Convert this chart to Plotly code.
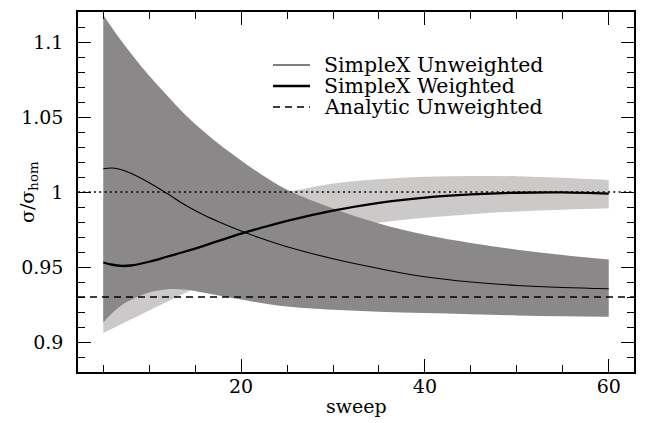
import plotly.graph_objects as go

# ---------------- data ----------------
sweep = [5, 6, 7, 8, 10, 12, 14, 16, 18, 20, 22, 25, 30, 35, 40, 45, 50, 55, 60]

unweighted = [1.0155, 1.016, 1.0148, 1.0125, 1.0062, 0.9988, 0.9910, 0.9845, 0.9790,
              0.9740, 0.9695, 0.9635, 0.9555, 0.9490, 0.9435, 0.9400, 0.9377, 0.9363, 0.9355]
unweighted_hi = [1.118, 1.109, 1.1005, 1.0925, 1.0775, 1.064, 1.051, 1.040, 1.030,
                 1.021, 1.0125, 1.0015, 0.989, 0.979, 0.9715, 0.966, 0.9615, 0.958, 0.955]
unweighted_lo = [0.913, 0.9195, 0.9245, 0.928, 0.933, 0.9352, 0.9348, 0.9328, 0.9305,
                 0.9283, 0.9262, 0.9237, 0.9215, 0.9202, 0.9193, 0.9185, 0.9177, 0.9172, 0.9169]

weighted = [0.953, 0.9515, 0.9507, 0.951, 0.9535, 0.957, 0.9605, 0.9643, 0.9683,
            0.9722, 0.9758, 0.9808, 0.9876, 0.9928, 0.9963, 0.9984, 0.9995, 0.9997, 0.9989]
weighted_hi = [0.995, 0.995, 0.995, 0.995, 0.995, 0.995, 0.995, 0.995, 0.996,
               0.997, 0.998, 1.000, 1.0056, 1.0085, 1.0102, 1.0107, 1.0105, 1.0095, 1.008]
weighted_lo = [0.906, 0.909, 0.912, 0.915, 0.921, 0.927, 0.933, 0.939, 0.945,
               0.951, 0.956, 0.963, 0.9735, 0.9795, 0.9828, 0.9852, 0.9870, 0.9882, 0.9891]

homogeneous_level = 1.0
analytic_unweighted = 0.93

x_range = [2.25, 62.75]
y_range = [0.88, 1.12]

legend_labels = ["SimpleX Unweighted", "SimpleX Weighted", "Analytic Unweighted"]

# ---------------- styles ----------------
DARK = "#8a8888"
LIGHT = "#ccc9c9"
FONT = "DejaVu Serif"

fig = go.Figure()

# light band (weighted)
fig.add_trace(go.Scatter(x=sweep, y=weighted_lo, mode="lines", line=dict(width=0, shape="spline"),
                         hoverinfo="skip", showlegend=False))
fig.add_trace(go.Scatter(x=sweep, y=weighted_hi, mode="lines", line=dict(width=0, shape="spline"),
                         fill="tonexty", fillcolor=LIGHT, hoverinfo="skip", showlegend=False))
# dark band (unweighted)
fig.add_trace(go.Scatter(x=sweep, y=unweighted_lo, mode="lines", line=dict(width=0, shape="spline"),
                         hoverinfo="skip", showlegend=False))
fig.add_trace(go.Scatter(x=sweep, y=unweighted_hi, mode="lines", line=dict(width=0, shape="spline"),
                         fill="tonexty", fillcolor=DARK, hoverinfo="skip", showlegend=False))

# reference levels
fig.add_trace(go.Scatter(x=x_range, y=[homogeneous_level] * 2, mode="lines",
                         line=dict(color="black", width=1.6, dash="2px,3.3px"), showlegend=False))
fig.add_trace(go.Scatter(x=x_range, y=[analytic_unweighted] * 2, mode="lines",
                         line=dict(color="black", width=1.5, dash="7px,5px"),
                         name=legend_labels[2], showlegend=False))

# curves
fig.add_trace(go.Scatter(x=sweep, y=unweighted, mode="lines",
                         line=dict(color="black", width=1.1, shape="spline"),
                         name=legend_labels[0], showlegend=False))
fig.add_trace(go.Scatter(x=sweep, y=weighted, mode="lines",
                         line=dict(color="black", width=2.3, shape="spline"),
                         name=legend_labels[1], showlegend=False))

# ---------------- layout geometry ----------------
# the page body adds an 8px offset; frame wanted at screen x 78..634, y 12..372
OFF = 8
W, H = 649 - OFF, 423 - OFF
L, T = 78 - OFF, 12 - OFF
R = W - (634 - OFF)
B = H - (372 - OFF)
pw, ph = W - L - R, H - T - B


def px(xs):
    return (xs - OFF - L) / pw


def py(ys):
    return 1 - (ys - OFF - T) / ph


rows_y = [65, 86, 107]
styles = [dict(width=1.1), dict(width=2.3), dict(width=1.5, dash="7px,5px")]
annotations = []
shapes = []
for lab, yy, st in zip(legend_labels, rows_y, styles):
    shapes.append(dict(type="line", xref="paper", yref="paper", x0=px(273), x1=px(310),
                       y0=py(yy), y1=py(yy), line=dict(color="black", **st)))
    annotations.append(dict(text=lab, xref="paper", yref="paper", x=px(323), y=py(yy),
                            xanchor="left", yanchor="middle", showarrow=False,
                            borderpad=0,
                            font=dict(family=FONT, size=20.5, color="black")))

annotations.append(dict(text="σ/σ<sub>hom</sub>", xref="paper", yref="paper",
                        x=px(28), y=py(192), textangle=-90, showarrow=False,
                        xanchor="center", yanchor="middle",
                        font=dict(family=FONT, size=19, color="black")))
annotations.append(dict(text="sweep", xref="paper", yref="paper",
                        x=0.5, y=py(406), showarrow=False,
                        xanchor="center", yanchor="middle",
                        font=dict(family=FONT, size=19, color="black")))

axis_common = dict(showline=True, linewidth=1.5, linecolor="black", mirror="allticks",
                   ticks="inside", ticklen=13, tickwidth=1, tickcolor="black",
                   showgrid=False, zeroline=False, automargin=False,
                   tickfont=dict(family=FONT, size=19, color="black"))

fig.update_layout(
    width=W, height=H,
    margin=dict(l=L, r=R, t=T, b=B),
    paper_bgcolor="white", plot_bgcolor="white",
    showlegend=False,
    annotations=annotations, shapes=shapes,
    xaxis=dict(range=x_range, tick0=0, dtick=20, ticklabelstandoff=-4,
               minor=dict(dtick=5, tick0=0, ticks="inside", ticklen=7, tickwidth=1, tickcolor="black"),
               **axis_common),
    yaxis=dict(range=y_range, tick0=0, dtick=0.05, ticklabelstandoff=9,
               tickvals=[0.9, 0.95, 1.0, 1.05, 1.1], ticktext=["0.9", "0.95", "1", "1.05", "1.1"],
               minor=dict(dtick=0.01, tick0=0, ticks="inside", ticklen=7, tickwidth=1, tickcolor="black"),
               **axis_common),
)

fig.write_html("out.html")
